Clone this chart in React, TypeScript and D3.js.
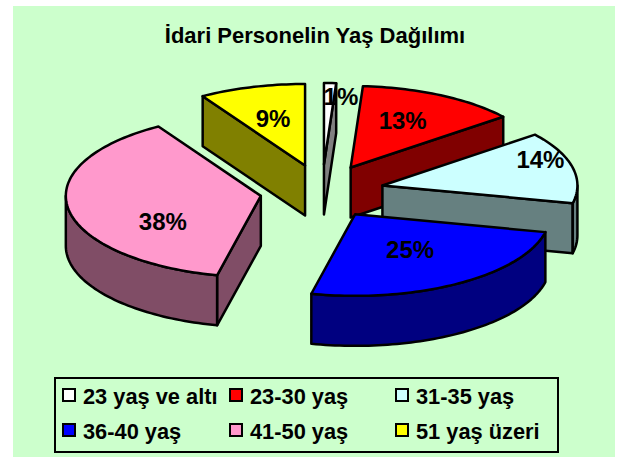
import React from "react";
import * as d3 from "d3";

const titleText = "İdari Personelin Yaş Dağılımı";
const categories = ["23 yaş ve altı", "23-30 yaş", "31-35 yaş", "36-40 yaş", "41-50 yaş", "51 yaş üzeri"];
const shares = [1, 13.3, 14.2, 25.1, 37.6, 8.8];
const colors = ["#FFFFFF", "#FF0000", "#CCFFFF", "#0000FF", "#FF99CC", "#FFFF00"];
const labelNudges: [number, number][] = [[17, -68], [52, -47], [158, -25], [55, 36], [-98, 26], [-32, -47]];

const W = 628, H = 457;
const cx = 322, cy = 191.5, rx = 195, ry = 81.5, ex = 62, ey = 27, depth = 50;
const font = "'Liberation Sans', Arial, sans-serif";

const pt = (ax: number, ay: number, a: number, dz = 0): [number, number] => [
  ax + rx * Math.sin(a),
  ay - ry * Math.cos(a) + dz,
];
const line = d3.line<[number, number]>();

function arcPts(ax: number, ay: number, a0: number, a1: number, dz = 0): [number, number][] {
  const n = Math.max(2, Math.ceil(Math.abs(a1 - a0) * 40));
  return d3.range(n + 1).map((i) => pt(ax, ay, a0 + ((a1 - a0) * i) / n, dz));
}

export default function App() {
  const arcs = d3.pie<number>().sort(null)(shares);
  const slices = arcs.map((d, i) => {
    const mid = (d.startAngle + d.endAngle) / 2;
    return {
      i,
      a0: d.startAngle,
      a1: d.endAngle,
      ax: cx + ex * Math.sin(mid),
      ay: cy - ey * Math.cos(mid),
    };
  });
  const ordered = d3.sort(slices, (s) => s.ay);
  const stroke = { stroke: "#000", strokeWidth: 2.5, strokeLinejoin: "round" as const };

  return (
    <svg width={W} height={H} style={{ position: "absolute", left: 0, top: 0 }}>
      <rect width={W} height={H} fill="#fff" />
      <rect x={13} y={6} width={602} height={451} fill="#CCFFCC" />
      <text x={315} y={43} textAnchor="middle" fontFamily={font} fontWeight="bold" fontSize={22}>{titleText}</text>

      {ordered.map((s) => {
        const fill = colors[s.i];
        const wall = d3.rgb(fill);
        const wallFill = d3.rgb(wall.r * 0.5, wall.g * 0.5, wall.b * 0.5).formatHex();
        const faces: string[] = [];
        if (Math.sin(s.a1) > 0.001) {
          const p = pt(s.ax, s.ay, s.a1);
          faces.push(line([[s.ax, s.ay], p, [p[0], p[1] + depth], [s.ax, s.ay + depth]])! + "Z");
        }
        if (Math.sin(s.a0) < -0.001) {
          const p = pt(s.ax, s.ay, s.a0);
          faces.push(line([[s.ax, s.ay], p, [p[0], p[1] + depth], [s.ax, s.ay + depth]])! + "Z");
        }
        const lo = Math.max(s.a0, Math.PI / 2);
        const hi = Math.min(s.a1, (3 * Math.PI) / 2);
        if (hi > lo) {
          faces.push(line([...arcPts(s.ax, s.ay, lo, hi), ...arcPts(s.ax, s.ay, hi, lo, depth)])! + "Z");
        }
        const top = line([[s.ax, s.ay], ...arcPts(s.ax, s.ay, s.a0, s.a1)])! + "Z";
        return (
          <g key={s.i}>
            {faces.map((f, k) => <path key={k} d={f} fill={wallFill} {...stroke} />)}
            <path d={top} fill={fill} {...stroke} />
          </g>
        );
      })}

      {slices.map((s) => (
        <text key={s.i} x={s.ax + labelNudges[s.i][0]} y={s.ay + labelNudges[s.i][1] + 8} textAnchor="middle"
          fontFamily={font} fontWeight="bold" fontSize={24}>
          {Math.round(shares[s.i])}%
        </text>
      ))}

      <rect x={55} y={378} width={503} height={74} fill="none" stroke="#000" strokeWidth={2} />
      {categories.map((c, i) => {
        const col = i % 3, row = Math.floor(i / 3);
        const x = [63, 230, 396][col], y = 389 + row * 35;
        return (
          <g key={c}>
            <rect x={x} y={y} width={12} height={12} fill={colors[i]} stroke="#000" strokeWidth={2} />
            <text x={x + 20} y={y + 15} fontFamily={font} fontWeight="bold" fontSize={21.8}>{c}</text>
          </g>
        );
      })}
    </svg>
  );
}
